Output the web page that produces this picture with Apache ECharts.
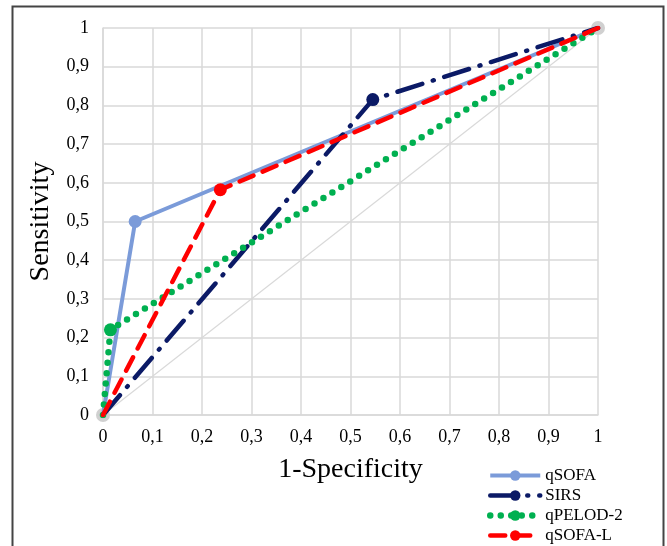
<!DOCTYPE html>
<html>
<head>
<meta charset="utf-8">
<script src="https://cdn.jsdelivr.net/npm/echarts@6/dist/echarts.min.js"></script>
<style>html,body{margin:0;padding:0;background:#fff}#c{width:667px;height:546px}</style>
</head>
<body>
<div id="c"></div>
<script>
var tickLabels = ['0','0,1','0,2','0,3','0,4','0,5','0,6','0,7','0,8','0,9','1'];
var diagonal = [[0,0],[1,1]];
var qSOFA = [[0,0],[0.065,0.5],[1,1]];
var SIRS = [[0,0],[0.545,0.815],[1,1]];
var qPELOD2 = [[0,0],[0.015,0.22],[1,1]];
var qSOFAL = [[0,0],[0.237,0.582],[1,1]];

function midMarker(arr){
  return arr.map(function(p,i){
    var last = arr.length-1;
    return {value:p, symbolSize:(i===0||i===last)?0:13};
  });
}
function fmt(v){ return tickLabels[Math.round(v*10)]; }
var font = '"Liberation Serif","Times New Roman",serif';
var chart = echarts.init(document.getElementById('c'));
chart.setOption({
  animation:false,
  backgroundColor:'#fff',
  graphic:[{type:'polyline', shape:{points:[[12.5,546],[12.5,6.5],[663.5,6.5],[663.5,546]]}, style:{stroke:'#444',lineWidth:2,fill:null}}],
  grid:{left:103,right:69,top:28,bottom:131},
  legend:{
    orient:'vertical', left:487, top:467, height:100, padding:0, itemGap:3, itemWidth:50, itemHeight:13,
    textStyle:{fontFamily:font,fontSize:17,color:'#000',lineHeight:17},
    lineStyle:{width:'inherit'},
    data:['qSOFA','SIRS','qPELOD-2','qSOFA-L']
  },
  xAxis:{type:'value',min:0,max:1,interval:0.1,
    name:'1-Specificity',nameLocation:'middle',nameGap:41,
    nameTextStyle:{fontFamily:font,fontSize:28,color:'#000'},
    axisLine:{show:true,lineStyle:{color:'#d9d9d9',width:1.5}},axisTick:{show:false},
    splitLine:{show:true,lineStyle:{color:'#d9d9d9',width:1.5}},
    axisLabel:{formatter:fmt,fontFamily:font,fontSize:18,color:'#000',margin:13}},
  yAxis:{type:'value',min:0,max:1,interval:0.1,
    name:'Sensitivity',nameLocation:'middle',nameGap:48,nameRotate:90,
    nameTextStyle:{fontFamily:font,fontSize:28,color:'#000'},
    axisLine:{show:true,lineStyle:{color:'#d9d9d9',width:1.5}},axisTick:{show:false},
    splitLine:{show:true,lineStyle:{color:'#d9d9d9',width:1.5}},
    axisLabel:{formatter:fmt,fontFamily:font,fontSize:18,color:'#000',margin:14}},
  series:[
    {name:'diag',type:'line',data:diagonal,symbol:'circle',symbolSize:14,
     lineStyle:{color:'#d9d9d9',width:1.2},itemStyle:{color:'#d0d0d0'},z:1,silent:true},
    {name:'qSOFA',type:'line',data:midMarker(qSOFA),symbol:'circle',
     lineStyle:{color:'#7b9bd9',width:4},itemStyle:{color:'#7b9bd9'},z:2},
    {name:'SIRS',type:'line',data:midMarker(SIRS),symbol:'circle',
     lineStyle:{color:'#0b1a66',width:4.5,type:[26,11,1,11],cap:'round'},itemStyle:{color:'#0b1a66'},z:3},
    {name:'qPELOD-2',type:'line',data:midMarker(qPELOD2),symbol:'circle',
     lineStyle:{color:'#00b050',width:6.5,type:[0,10.5],cap:'round'},itemStyle:{color:'#00b050'},z:4},
    {name:'qSOFA-L',type:'line',data:midMarker(qSOFAL),symbol:'circle',
     lineStyle:{color:'#ff0000',width:4.5,type:[15,10],cap:'round'},itemStyle:{color:'#ff0000'},z:5}
  ]
});
</script>
</body>
</html>
